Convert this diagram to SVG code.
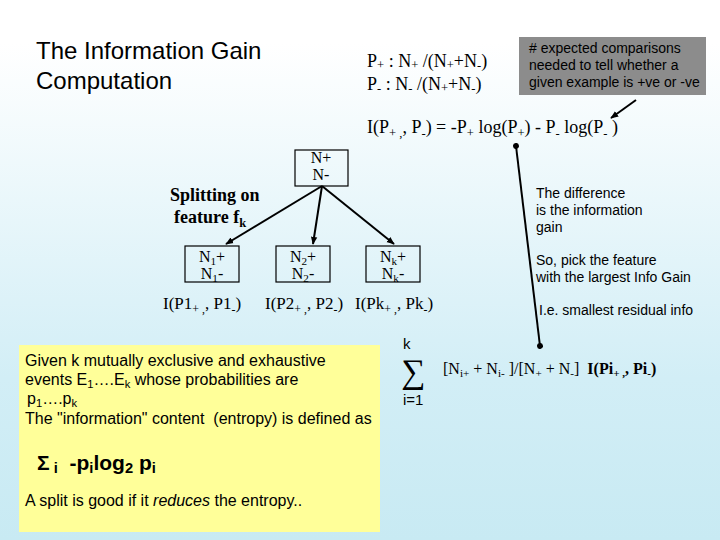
<svg xmlns="http://www.w3.org/2000/svg" width="720" height="540" viewBox="0 0 720 540">
<defs>
<linearGradient id="bg" x1="0" y1="0" x2="0" y2="1">
<stop offset="0.08" stop-color="#ffffff"/>
<stop offset="0.7" stop-color="#d2eef6"/>
<stop offset="1" stop-color="#c8eaf3"/>
</linearGradient>
<marker id="ah" viewBox="0 0 10 10" refX="9" refY="5" markerWidth="4" markerHeight="4" orient="auto" markerUnits="strokeWidth">
<path d="M0,1 L10,5 L0,9 z" fill="#000"/>
</marker>
<marker id="dot" viewBox="0 0 10 10" refX="5" refY="5" markerWidth="3" markerHeight="3" orient="auto" markerUnits="strokeWidth">
<circle cx="5" cy="5" r="5" fill="#000"/>
</marker>
<style>
.sans{font-family:"Liberation Sans",Arial,sans-serif;fill:#000}
.serif{font-family:"Liberation Serif","Times New Roman",serif;fill:#000}
.box{fill:none;stroke:#000;stroke-width:1.2}
.conn{stroke:#000;stroke-width:2;fill:none}
.s{font-size:70%}
</style>
</defs>
<rect x="0" y="0" width="720" height="540" fill="url(#bg)"/>

<g id="title">
<text class="sans" x="36" y="59" font-size="24">The Information Gain</text>
<text class="sans" x="36" y="89" font-size="24">Computation</text>
</g>

<g id="prob-formulas">
<text class="serif" x="367" y="67" font-size="18">P<tspan class="s" dy="2">+</tspan><tspan dy="-2"> : N</tspan><tspan class="s" dy="2">+</tspan><tspan dy="-2"> /(N</tspan><tspan class="s" dy="2">+</tspan><tspan dy="-2">+N</tspan><tspan class="s" dy="2">-</tspan><tspan dy="-2">)</tspan></text>
<text class="serif" x="367" y="90" font-size="18">P<tspan class="s" dy="2">-</tspan><tspan dy="-2"> : N</tspan><tspan class="s" dy="2">-</tspan><tspan dy="-2"> /(N</tspan><tspan class="s" dy="2">+</tspan><tspan dy="-2">+N</tspan><tspan class="s" dy="2">-</tspan><tspan dy="-2">)</tspan></text>
</g>

<g id="note-box">
<rect x="519" y="37" width="187" height="58" fill="#8c8c8c"/>
<text class="sans" font-size="14"><tspan x="529" y="53"># expected comparisons</tspan><tspan x="529" y="70">needed to tell whether a</tspan><tspan x="529" y="87">given example is +ve or -ve</tspan></text>
</g>

<g id="entropy-formula">
<text class="serif" x="367" y="133" font-size="18">I(P<tspan class="s" dy="4">+ ,</tspan><tspan dy="-4">, P</tspan><tspan class="s" dy="4">-</tspan><tspan dy="-4">) = -P</tspan><tspan class="s" dy="4">+</tspan><tspan dy="-4"> log(P</tspan><tspan class="s" dy="4">+</tspan><tspan dy="-4">) - P</tspan><tspan class="s" dy="4">-</tspan><tspan dy="-4"> log(P</tspan><tspan class="s" dy="4">-</tspan><tspan dy="-4"> )</tspan></text>
</g>

<g id="root">
<rect class="box" x="295" y="150" width="53" height="36"/>
<text class="serif" x="321" y="163" font-size="16" text-anchor="middle">N+</text>
<text class="serif" x="321" y="180" font-size="16" text-anchor="middle">N-</text>
</g>

<g id="split-label">
<text class="serif" x="170" y="201" font-size="18" font-weight="bold">Splitting on</text>
<text class="serif" x="174" y="223" font-size="18" font-weight="bold">feature f<tspan class="s" dy="4">k</tspan></text>
</g>

<g id="child1">
<rect class="box" x="185" y="246" width="54" height="36"/>
<text class="serif" x="212" y="262" font-size="16" text-anchor="middle">N<tspan class="s" dy="3">1</tspan><tspan dy="-3">+</tspan></text>
<text class="serif" x="212" y="279" font-size="16" text-anchor="middle">N<tspan class="s" dy="3">1</tspan><tspan dy="-3">-</tspan></text>
<text class="serif" x="163" y="309" font-size="17">I(P1<tspan class="s" dy="4">+ ,</tspan><tspan dy="-4">, P1</tspan><tspan class="s" dy="4">-</tspan><tspan dy="-4">)</tspan></text>
</g>

<g id="child2">
<rect class="box" x="276" y="246" width="54" height="36"/>
<text class="serif" x="303" y="262" font-size="16" text-anchor="middle">N<tspan class="s" dy="3">2</tspan><tspan dy="-3">+</tspan></text>
<text class="serif" x="303" y="279" font-size="16" text-anchor="middle">N<tspan class="s" dy="3">2</tspan><tspan dy="-3">-</tspan></text>
<text class="serif" x="265" y="309" font-size="17">I(P2<tspan class="s" dy="4">+ ,</tspan><tspan dy="-4">, P2</tspan><tspan class="s" dy="4">-</tspan><tspan dy="-4">)</tspan></text>
</g>

<g id="childk">
<rect class="box" x="366" y="246" width="54" height="36"/>
<text class="serif" x="393" y="262" font-size="16" text-anchor="middle">N<tspan class="s" dy="3">k</tspan><tspan dy="-3">+</tspan></text>
<text class="serif" x="393" y="279" font-size="16" text-anchor="middle">N<tspan class="s" dy="3">k</tspan><tspan dy="-3">-</tspan></text>
<text class="serif" x="355" y="309" font-size="17">I(Pk<tspan class="s" dy="4">+ ,</tspan><tspan dy="-4">, Pk</tspan><tspan class="s" dy="4">-</tspan><tspan dy="-4">)</tspan></text>
</g>

<g id="gain-notes">
<text class="sans" font-size="14"><tspan x="536" y="198">The difference</tspan><tspan x="536" y="215">is the information</tspan><tspan x="536" y="232">gain</tspan><tspan x="536" y="265">So, pick the feature</tspan><tspan x="536" y="282">with the largest Info Gain</tspan><tspan x="539" y="315">I.e. smallest residual info</tspan></text>
</g>

<g id="weighted-sum">
<text class="sans" x="403" y="349" font-size="15">k</text>
<text class="serif" x="401" y="383" font-size="34">∑</text>
<text class="sans" x="403" y="405" font-size="15">i=1</text>
<text class="serif" x="443" y="374" font-size="16" xml:space="preserve">[N<tspan class="s" dy="3">i+</tspan><tspan dy="-3"> + N</tspan><tspan class="s" dy="3">i-</tspan><tspan dy="-3"> ]/[N</tspan><tspan class="s" dy="3">+</tspan><tspan dy="-3"> + N</tspan><tspan class="s" dy="3">-</tspan><tspan dy="-3">]  </tspan><tspan font-weight="bold">I(Pi<tspan class="s" dy="3">+ ,</tspan><tspan dy="-3">, Pi</tspan><tspan class="s" dy="3">-</tspan><tspan dy="-3">)</tspan></tspan></text>
</g>

<g id="entropy-box">
<rect x="19" y="345" width="361" height="187" fill="#ffff99"/>
<text class="sans" font-size="16" xml:space="preserve"><tspan x="25" y="366">Given k mutually exclusive and exhaustive</tspan><tspan x="25" y="385">events E<tspan class="s" dy="3">1</tspan><tspan dy="-3">….E</tspan><tspan class="s" dy="3">k</tspan><tspan dy="-3"> whose probabilities are</tspan></tspan><tspan x="27" y="404">p<tspan class="s" dy="3">1</tspan><tspan dy="-3">….p</tspan><tspan class="s" dy="3">k</tspan></tspan><tspan x="25" y="424">The "information" content  (entropy) is defined as</tspan></text>
<text class="sans" x="37" y="470" font-size="21" font-weight="bold" xml:space="preserve">Σ<tspan class="s" dy="3"> i</tspan><tspan dy="-3">  -p</tspan><tspan class="s" dy="3">i</tspan><tspan dy="-3">log</tspan><tspan class="s" dy="3">2</tspan><tspan dy="-3"> p</tspan><tspan class="s" dy="3">i</tspan></text>
<text class="sans" x="25" y="506" font-size="16">A split is good if it <tspan font-style="italic">reduces</tspan> the entropy..</text>
</g>

<g id="connectors">
<line class="conn" x1="322" y1="186" x2="226" y2="244" marker-end="url(#ah)"/>
<line class="conn" x1="322" y1="186" x2="313" y2="244" marker-end="url(#ah)"/>
<line class="conn" x1="322" y1="186" x2="394" y2="244" marker-end="url(#ah)"/>
<line class="conn" x1="636" y1="100" x2="611" y2="118" marker-end="url(#ah)"/>
<line class="conn" x1="516" y1="146" x2="540" y2="346" marker-start="url(#dot)" marker-end="url(#dot)"/>
</g>
</svg>
